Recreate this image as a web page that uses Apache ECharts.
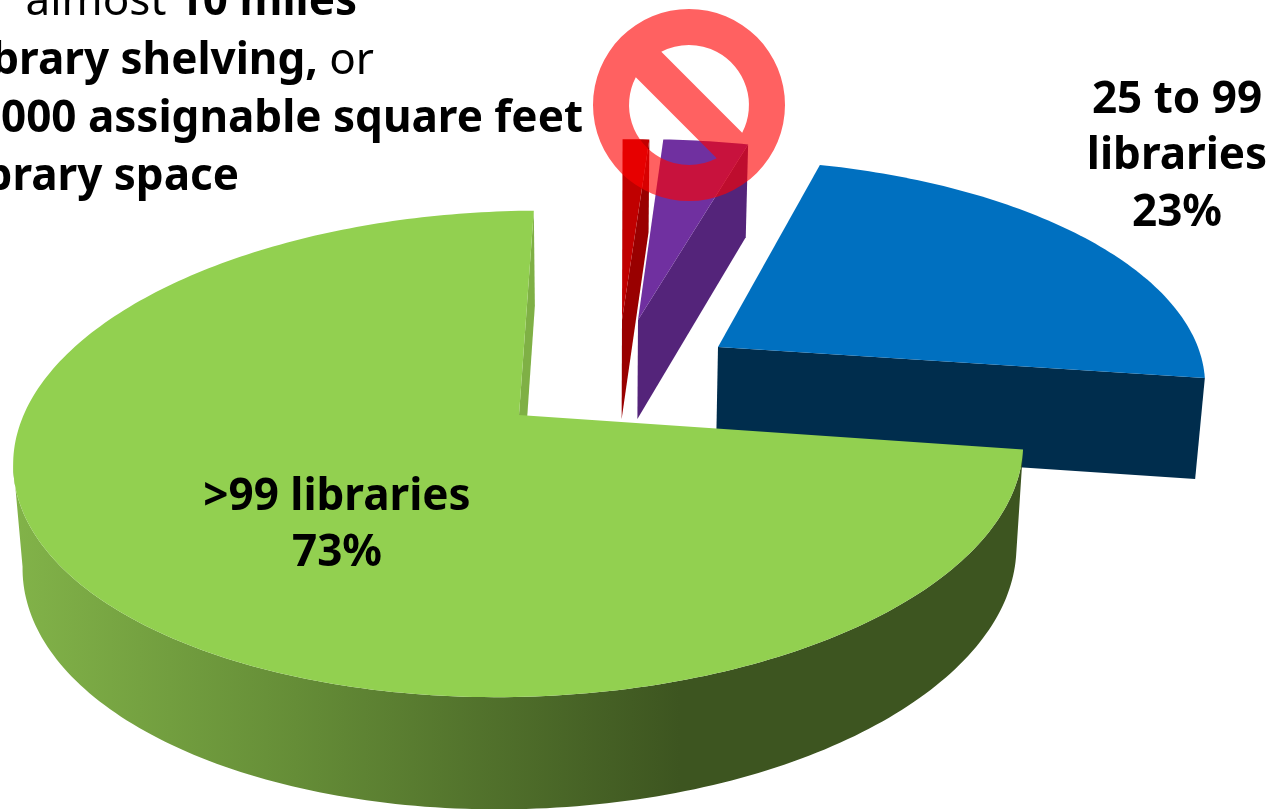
<!DOCTYPE html>
<html><head><meta charset="utf-8">
<style>html,body{margin:0;padding:0;background:#fff}#c{width:1274px;height:809px}</style>
<script src="https://cdn.jsdelivr.net/npm/echarts@6/dist/echarts.min.js"></script>
</head><body><div id="c"></div>
<script>
// Data, clockwise from the top of the pie
const categories = ['Fewer than 25 (a)', 'Fewer than 25 (b)', '25 to 99 libraries', '>99 libraries'];
const values = [1.05, 3.35, 23.0, 72.6];
const labelNames = ['', '', '25 to 99\nlibraries', '>99 libraries'];

// Look of the 3-D pie
const colors = {
  top: ['#C00000', '#7030A0', '#0070C0', '#92D050'],
  wall: ['#990000', '#54247A', '#002D4D', '#7FB045']
};
const cam = {x0: 519, y0: 415, a: 498.5, b: 236.9, k: 0.16, shear: -5, tilt: -8};
const depth = {vx: 600, sx: 0.984, sy: 1.035, dy: 87.8};
const firstAngle = 1.4;
const FONT = '"Noto Sans", sans-serif';
const labelPos = {2: [1177, 100], 3: [337, 497]};
// Where each slice's tip lands once the slices are pulled apart
const tips = [[622, 320], [638, 320], [718, 347], [519, 415]];

const total = values.reduce((s, v) => s + v, 0);
function project(X, Y) {
  const w = 1 - cam.k * Y;
  return [cam.x0 + (cam.a * X + cam.shear * Y) / w, cam.y0 + (cam.b * Y + cam.tilt * X) / w];
}
function unproject(p) {
  const x = p[0] - cam.x0, y = p[1] - cam.y0;
  const m = cam.shear + cam.k * x, n = cam.b + cam.k * y;
  const det = cam.a * n - m * cam.tilt;
  return [(x * n - m * y) / det, (cam.a * y - cam.tilt * x) / det];
}
const explode = tips.map(unproject);
function lower(p) {
  return [depth.vx + depth.sx * (p[0] - depth.vx), depth.dy + depth.sy * p[1]];
}
function rimPoints(i, from, to) {
  const pts = [];
  const n = Math.max(4, Math.ceil(to - from));
  for (let j = 0; j <= n; j++) {
    const t = (from + (to - from) * j / n) * Math.PI / 180;
    pts.push(project(explode[i][0] + Math.sin(t), explode[i][1] - Math.cos(t)));
  }
  return pts;
}
function renderItem(params, api) {
  const i = params.dataIndex;
  let start = firstAngle;
  for (let j = 0; j < i; j++) start += values[j] / total * 360;
  const end = start + api.value(0) / total * 360;
  const apex = project(explode[i][0], explode[i][1]);
  const rim = rimPoints(i, start, end);
  const children = [];
  const poly = (points, fill) => children.push({type: 'polygon', shape: {points}, style: {fill}});
  if (i === 3) {
    // outer wall of the big slice: only the part facing the viewer, up to the leftmost point
    let minIdx = 0;
    rim.forEach((p, j) => { if (p[0] < rim[minIdx][0]) minIdx = j; });
    const front = rim.slice(0, minIdx + 1);
    poly(front.concat(front.map(lower).reverse()), {
      type: 'linear', x: 0, y: 0, x2: 1, y2: 0,
      colorStops: [
        {offset: 0, color: '#82B349'},
        {offset: 0.28, color: '#658D37'},
        {offset: 0.66, color: '#3D5520'},
        {offset: 1, color: '#3D5520'}
      ]
    });
  }
  // the cut face at the end of each sweep
  const o = rim[rim.length - 1];
  poly([apex, o, lower(o), lower(apex)], colors.wall[i]);
  poly([apex].concat(rim), colors.top[i]);
  if (labelNames[i]) {
    const pct = Math.round(api.value(0) / total * 100) + '%';
    const lines = (labelNames[i] + '\n' + pct).split('\n');
    lines.forEach((line, k) => children.push({
      type: 'text',
      style: {
        text: line, x: labelPos[i][0], y: labelPos[i][1] + k * 56.5,
        font: 'bold 44px ' + FONT, fill: '#000',
        align: 'center', verticalAlign: 'middle'
      }
    }));
  }
  return {type: 'group', children};
}

// Prohibition sign
const ban = {cx: 689, cy: 105, R: 96, r: 60, p1: [-27.7, -53.2], p2: [53.2, 27.7]};
function banPath() {
  const {cx, cy, R, r, p1, p2} = ban;
  const P = (s, p) => (cx + s * p[0]) + ' ' + (cy + s * p[1]);
  return `M ${cx - R} ${cy} A ${R} ${R} 0 1 1 ${cx + R} ${cy} A ${R} ${R} 0 1 1 ${cx - R} ${cy} Z ` +
    `M ${P(1, p2)} A ${r} ${r} 0 0 0 ${P(1, p1)} Z ` +
    `M ${P(-1, p2)} A ${r} ${r} 0 0 0 ${P(-1, p1)} Z`;
}

// Caption, cut off by the edge of the picture in the reference
const captionLines = [
  {t: '{r|almost }{b|10 miles}', x: 357, y: 2},
  {t: '{b|library shelving,}{r| or}', x: 374, y: 61},
  {t: '{b|8,000 assignable square feet}', x: 583, y: 119},
  {t: '{b|library space}', x: 239, y: 177}
];
const rich = {
  b: {font: 'bold 44px ' + FONT, fill: '#000'},
  r: {font: '44px ' + FONT, fill: '#000'}
};

const chart = echarts.init(document.getElementById('c'), null, {renderer: 'canvas'});
chart.setOption({
  animation: false,
  backgroundColor: '#fff',
  series: [{
    type: 'custom',
    coordinateSystem: 'none',
    name: 'Libraries',
    renderItem,
    silent: true,
    z: 2,
    data: values.map((v, i) => ({name: categories[i], value: [v]}))
  }, {
    type: 'custom',
    coordinateSystem: 'none',
    name: 'Prohibition sign',
    silent: true,
    z: 5,
    renderItem: () => ({
      type: 'path',
      shape: {pathData: banPath()},
      style: {fill: 'rgba(255,0,0,0.62)'}
    }),
    data: [[1]]
  }],
  graphic: {elements: captionLines.map(l => ({
    type: 'text', z: 1, silent: true,
    style: {text: l.t, x: l.x, y: l.y, align: 'right', verticalAlign: 'middle', rich}
  }))}
});
</script></body></html>
